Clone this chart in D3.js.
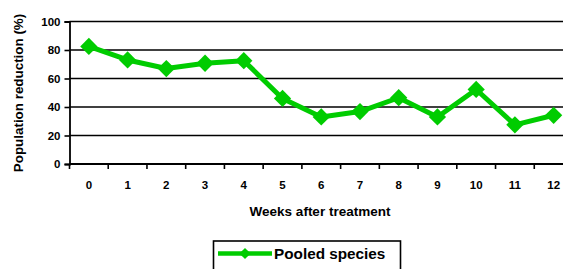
<!DOCTYPE html>
<html>
<head>
<meta charset="utf-8">
<script src="https://cdn.jsdelivr.net/npm/d3@7"></script>
<style>
  body { margin: 0; background: #fff; }
  svg { display: block; font-family: "Liberation Sans", Arial, sans-serif; font-weight: bold; }
</style>
</head>
<body>
<div id="chart"></div>
<script>
var weeks = ['0', '1', '2', '3', '4', '5', '6', '7', '8', '9', '10', '11', '12'];
var reduction = [82.5, 73, 67, 70.7, 72.5, 46, 33, 36.8, 46.5, 33, 52.3, 27.5, 34.2];
var yTicks = [0, 20, 40, 60, 80, 100];
var seriesName = 'Pooled species';

var width = 563, height = 269;
var plotLeft = 69.5, plotRight = 573, plotTop = 21.5, plotBottom = 164;

var svg = d3.select('#chart').append('svg')
    .attr('width', width)
    .attr('height', height);

var x = d3.scaleBand()
    .domain(weeks)
    .range([plotLeft, plotRight]);

var y = d3.scaleLinear()
    .domain([0, 100])
    .range([plotBottom, plotTop]);

/* gridlines */
svg.append('g')
    .selectAll('line')
    .data(yTicks.filter(function(d) { return d > 0; }))
    .enter().append('line')
    .attr('x1', plotLeft)
    .attr('x2', plotRight)
    .attr('y1', function(d) { return y(d); })
    .attr('y2', function(d) { return y(d); })
    .attr('stroke', '#000')
    .attr('stroke-width', 1.6);

/* y axis */
var yAxis = svg.append('g')
    .attr('transform', 'translate(' + plotLeft + ',0)')
    .call(d3.axisLeft(y).tickValues(yTicks).tickSize(5).tickPadding(4).tickFormat(d3.format('d')));
yAxis.select('.domain').attr('stroke', '#000').attr('stroke-width', 1.8);
yAxis.selectAll('.tick line').attr('stroke', '#000').attr('stroke-width', 1.6);
yAxis.selectAll('text')
    .attr('font-size', 11.5)
    .attr('font-weight', 'bold')
    .attr('font-family', '"Liberation Sans", Arial, sans-serif')
    .attr('fill', '#000');

/* x axis: ticks between categories */
var xAxis = svg.append('g')
    .attr('transform', 'translate(0,' + plotBottom + ')');
xAxis.append('line')
    .attr('x1', plotLeft)
    .attr('x2', plotRight)
    .attr('stroke', '#000')
    .attr('stroke-width', 1.8);
xAxis.selectAll('line.tk')
    .data(weeks)
    .enter().append('line')
    .attr('class', 'tk')
    .attr('x1', function(d) { return x(d); })
    .attr('x2', function(d) { return x(d); })
    .attr('y1', 0)
    .attr('y2', 5)
    .attr('stroke', '#000')
    .attr('stroke-width', 1.6);
xAxis.selectAll('text')
    .data(weeks)
    .enter().append('text')
    .attr('x', function(d) { return x(d) + x.bandwidth() / 2; })
    .attr('y', 25)
    .attr('text-anchor', 'middle')
    .attr('font-size', 11.5)
    .text(function(d) { return d; });

/* axis titles */
svg.append('text')
    .attr('x', 320)
    .attr('y', 216)
    .attr('text-anchor', 'middle')
    .attr('font-size', 13.5)
    .text('Weeks after treatment');

svg.append('text')
    .attr('transform', 'translate(23,93) rotate(-90)')
    .attr('text-anchor', 'middle')
    .attr('font-size', 13.4)
    .text('Population reduction (%)');

/* series line */
var green = '#00cc00';
var line = d3.line()
    .x(function(d, i) { return x(weeks[i]) + x.bandwidth() / 2; })
    .y(function(d) { return y(d); });

svg.append('path')
    .datum(reduction)
    .attr('d', line)
    .attr('fill', 'none')
    .attr('stroke', green)
    .attr('stroke-width', 5)
    .attr('stroke-linejoin', 'round');

var diamond = d3.symbol().type(d3.symbolDiamond2).size(190);
svg.append('g')
    .selectAll('path')
    .data(reduction)
    .enter().append('path')
    .attr('d', diamond)
    .attr('transform', function(d, i) {
        return 'translate(' + (x(weeks[i]) + x.bandwidth() / 2) + ',' + y(d) + ')';
    })
    .attr('fill', green);

/* legend */
var legend = svg.append('g');
legend.append('rect')
    .attr('x', 213.5)
    .attr('y', 241)
    .attr('width', 187)
    .attr('height', 40)
    .attr('fill', '#fff')
    .attr('stroke', '#000')
    .attr('stroke-width', 1.6);
legend.append('line')
    .attr('x1', 218)
    .attr('x2', 272)
    .attr('y1', 253.5)
    .attr('y2', 253.5)
    .attr('stroke', green)
    .attr('stroke-width', 4.5);
legend.append('path')
    .attr('d', d3.symbol().type(d3.symbolDiamond2).size(80))
    .attr('transform', 'translate(245,253.5)')
    .attr('fill', green);
legend.append('text')
    .attr('x', 274)
    .attr('y', 259)
    .attr('font-size', 15.3)
    .text(seriesName);
</script>
</body>
</html>
